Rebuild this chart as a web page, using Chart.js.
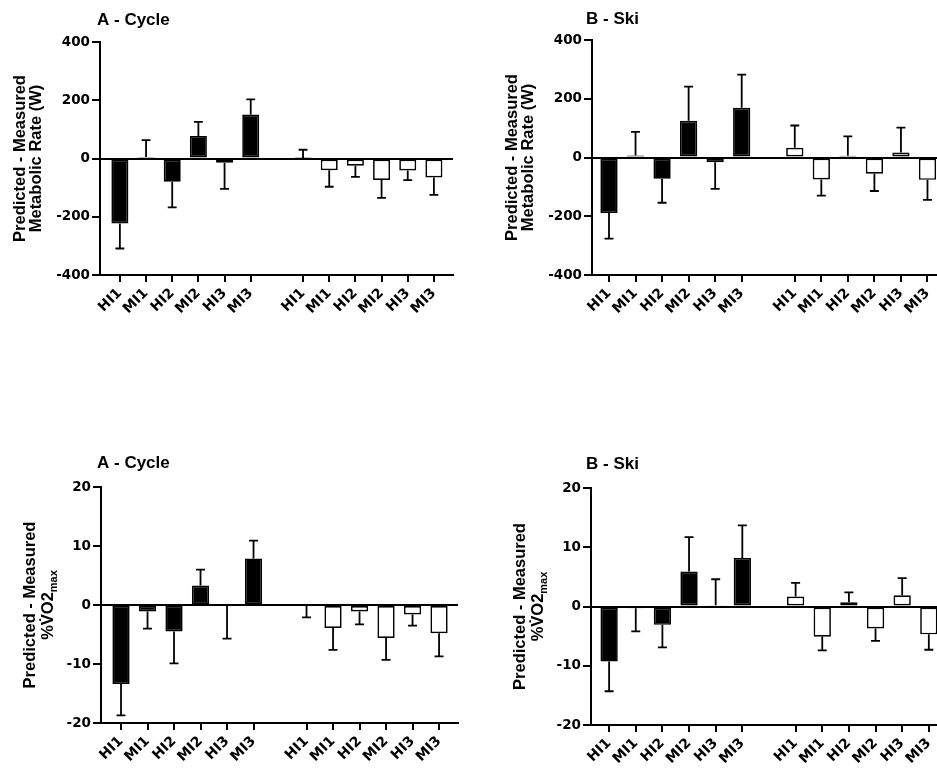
<!DOCTYPE html>
<html>
<head>
<meta charset="utf-8">
<script src="https://cdn.jsdelivr.net/npm/chart.js@4.4.1/dist/chart.umd.min.js"></script>
<style>
  html, body { margin: 0; padding: 0; background: #fff; overflow: hidden; width: 937px; height: 775px; }
  canvas { position: absolute; }
</style>
</head>
<body>
<canvas id="cycleW" width="470" height="340" style="left:0px;top:0px"></canvas>
<canvas id="skiW" width="490" height="340" style="left:470px;top:0px"></canvas>
<canvas id="cycleV" width="470" height="345" style="left:0px;top:430px"></canvas>
<canvas id="skiV" width="490" height="345" style="left:470px;top:430px"></canvas>
<script>
var groupLabels = ['HI1', 'MI1', 'HI2', 'MI2', 'HI3', 'MI3'];

// predicted - measured metabolic rate (W): filled bars, then open bars
var cycleW_filled = [-223, 5, -80, 77, -15, 151];
var cycleW_filledSD = [86, 58, 88, 49, 89, 52];
var cycleW_open = [2, -40, -25, -74, -41, -65];
var cycleW_openSD = [28, 57, 38, 61, 33, 60];

var skiW_filled = [-189, 7, -72, 125, -16, 169];
var skiW_filledSD = [87, 80, 82, 116, 91, 113];
var skiW_open = [33, -75, 6, -55, 17, -76];
var skiW_openSD = [76, 55, 66, 59, 85, 68];

// predicted - measured %VO2max
var cycleV_filled = [-13.4, -1.1, -4.5, 3.3, -0.1, 7.9];
var cycleV_filledSD = [5.3, 2.9, 5.4, 2.7, 5.6, 3.0];
var cycleV_open = [-0.1, -3.9, -1.1, -5.6, -1.6, -4.8];
var cycleV_openSD = [2.0, 3.7, 2.2, 3.7, 1.9, 3.9];

var skiV_filled = [-9.3, -0.3, -3.1, 5.9, 0.2, 8.2];
var skiV_filledSD = [5.0, 3.9, 3.8, 5.8, 4.4, 5.5];
var skiV_open = [1.7, -5.1, 0.7, -3.7, 1.9, -4.7];
var skiV_openSD = [2.3, 2.3, 1.7, 2.1, 2.9, 2.6];

var wattTicks = [-400, -200, 0, 200, 400];
var pctTicks = [-20, -10, 0, 10, 20];

var FONT = 'Arial, "Liberation Sans", sans-serif';
var TICK_FONT = '"DejaVu Sans", Arial, sans-serif';

// one-sided error bars (away from zero)
var errorBars = {
  id: 'errorBars',
  afterDatasetsDraw: function(chart) {
    var ctx = chart.ctx;
    var yScale = chart.scales.y;
    chart.data.datasets.forEach(function(ds, di) {
      var meta = chart.getDatasetMeta(di);
      meta.data.forEach(function(bar, i) {
        var v = ds.data[i];
        var sd = ds.errors[i];
        if (v == null || sd == null) return;
        var end = v >= 0 ? v + sd : v - sd;
        var y0 = yScale.getPixelForValue(v);
        var y1 = yScale.getPixelForValue(end);
        var half = bar.width * 0.26;
        ctx.save();
        ctx.strokeStyle = '#000';
        ctx.lineWidth = 1.8;
        ctx.beginPath();
        ctx.moveTo(bar.x, y0);
        ctx.lineTo(bar.x, y1);
        ctx.moveTo(bar.x - half, y1);
        ctx.lineTo(bar.x + half, y1);
        ctx.stroke();
        ctx.restore();
      });
    });
  }
};

// panel letter title and the rotated y axis title (with subscript)
var panelText = {
  id: 'panelText',
  afterDraw: function(chart, args, opts) {
    var ctx = chart.ctx;
    var area = chart.chartArea;
    ctx.save();
    ctx.fillStyle = '#000';
    ctx.textBaseline = 'alphabetic';
    ctx.textAlign = 'left';
    ctx.font = 'bold 17px ' + FONT;
    ctx.fillText(opts.title, area.left + opts.titleDx, opts.titleY);

    var cy = (area.top + area.bottom) / 2;
    opts.yLines.forEach(function(line, li) {
      var w = 0;
      line.forEach(function(seg) {
        ctx.font = 'bold ' + (seg.sub ? 11 : 16.5) + 'px ' + FONT;
        seg.w = ctx.measureText(seg.t).width;
        w += seg.w;
      });
      ctx.save();
      ctx.translate(area.left + opts.yBase[li], cy);
      ctx.rotate(-Math.PI / 2);
      var x = -w / 2;
      line.forEach(function(seg) {
        ctx.font = 'bold ' + (seg.sub ? 11 : 16.5) + 'px ' + FONT;
        ctx.fillText(seg.t, x, seg.sub ? 4 : 0);
        x += seg.w;
      });
      ctx.restore();
    });
    ctx.restore();
  }
};

function makePanel(id, filled, filledSD, open, openSD, yTicks, p) {
  var labels = groupLabels.concat([''], groupLabels);
  var values = filled.concat([null], open);
  var errors = filledSD.concat([null], openSD);
  var colors = filled.map(function() { return '#000'; }).concat(['#fff'], open.map(function() { return '#fff'; }));

  return new Chart(document.getElementById(id), {
    type: 'bar',
    data: {
      labels: labels,
      datasets: [{
        data: values,
        errors: errors,
        backgroundColor: colors,
        borderColor: '#000',
        borderWidth: 1.7,
        borderSkipped: false,
        barPercentage: 0.65,
        categoryPercentage: 1
      }]
    },
    options: {
      responsive: false,
      animation: false,
      layout: { padding: { top: p.top, right: p.right, left: 0, bottom: 0 } },
      plugins: {
        legend: { display: false },
        tooltip: { enabled: false },
        panelText: { title: p.title, titleDx: p.titleDx, titleY: p.titleY, yLines: p.yLines, yBase: p.yBase }
      },
      scales: {
        x: {
          afterFit: function(scale) { scale.height = p.xHeight; },
          // wider margin at both ends of the axis than the default half category
          afterBuildTicks: function(scale) {
            scale._startValue = p.xStart;
            scale._valueRange = p.xRange;
          },
          border: { color: '#000', width: 2 },
          grid: {
            offset: false,
            drawOnChartArea: false,
            tickLength: 7,
            lineWidth: 2,
            tickColor: function(c) { return c.index === 6 ? 'rgba(0,0,0,0)' : '#000'; }
          },
          ticks: {
            autoSkip: false,
            minRotation: 45,
            maxRotation: 45,
            padding: 3,
            color: '#000',
            font: { family: TICK_FONT, size: 14, weight: 'bold' }
          }
        },
        y: {
          min: yTicks[0],
          max: yTicks[yTicks.length - 1],
          afterFit: function(scale) { scale.width = p.yWidth; },
          afterBuildTicks: function(scale) {
            scale.ticks = yTicks.map(function(v) { return { value: v }; });
          },
          border: { color: '#000', width: 2 },
          grid: {
            lineWidth: 2,
            tickLength: 8,
            tickColor: '#000',
            color: function(c) { return c.tick && c.tick.value === 0 ? '#000' : 'rgba(0,0,0,0)'; }
          },
          ticks: {
            padding: 2,
            color: '#000',
            font: { family: TICK_FONT, size: 13.5, weight: 'bold' }
          }
        }
      }
    },
    plugins: [errorBars, panelText]
  });
}

var wattLabel = [[{ t: 'Predicted - Measured' }], [{ t: 'Metabolic Rate (W)' }]];
var pctLabel = [[{ t: 'Predicted - Measured' }], [{ t: '%V\u0307O2' }, { t: 'max', sub: true }]];

makePanel('cycleW', cycleW_filled, cycleW_filledSD, cycleW_open, cycleW_openSD, wattTicks,
  { top: 42, right: 17, yWidth: 100, xHeight: 65, xStart: -0.76, xRange: 13.49,
    title: 'A - Cycle', titleDx: -3, titleY: 25, yLines: wattLabel, yBase: [-75, -59] });
makePanel('skiW', skiW_filled, skiW_filledSD, skiW_open, skiW_openSD, wattTicks,
  { top: 40, right: 15, yWidth: 122, xHeight: 65, xStart: -0.64, xRange: 13.3,
    title: 'B - Ski', titleDx: -6, titleY: 24, yLines: wattLabel, yBase: [-75, -59] });
makePanel('cycleV', cycleV_filled, cycleV_filledSD, cycleV_open, cycleV_openSD, pctTicks,
  { top: 57, right: 12, yWidth: 101, xHeight: 52, xStart: -0.755, xRange: 13.47,
    title: 'A - Cycle', titleDx: -4, titleY: 38, yLines: pctLabel, yBase: [-66, -48] });
makePanel('skiV', skiV_filled, skiV_filledSD, skiV_open, skiV_openSD, pctTicks,
  { top: 58, right: 12, yWidth: 121, xHeight: 50, xStart: -0.68, xRange: 13.4,
    title: 'B - Ski', titleDx: -5, titleY: 39, yLines: pctLabel, yBase: [-66, -48] });
</script>
</body>
</html>
